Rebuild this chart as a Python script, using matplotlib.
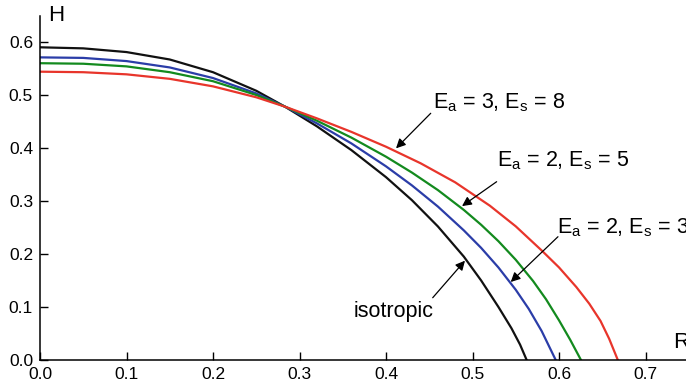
import matplotlib.pyplot as plt


plt.rcParams["font.family"] = ["Liberation Sans", "DejaVu Sans"]
plt.rcParams["mathtext.fontset"] = "custom"
plt.rcParams["mathtext.rm"] = "Liberation Sans"
plt.rcParams["mathtext.default"] = "regular"

# values (R, H)
iso_r = [0.0, 0.05, 0.10, 0.15, 0.20, 0.25, 0.2832, 0.32, 0.36, 0.40,
         0.43, 0.46, 0.49, 0.51, 0.53, 0.545, 0.555, 0.5626]
iso_h = [0.590, 0.588, 0.581, 0.567, 0.543, 0.508, 0.478, 0.441, 0.396,
         0.345, 0.3015, 0.252, 0.195, 0.150, 0.100, 0.060, 0.029, 0.0]

es3_r = [0.0, 0.05, 0.10, 0.15, 0.20, 0.25, 0.2832, 0.32, 0.36, 0.40,
         0.43, 0.46, 0.49, 0.51, 0.53, 0.55, 0.565, 0.58, 0.5962]
es3_h = [0.571, 0.570, 0.564, 0.552, 0.532, 0.503, 0.478, 0.4466, 0.4086,
         0.3654, 0.3294, 0.2895, 0.2445, 0.2115, 0.1745, 0.1325, 0.0965,
         0.0545, 0.0]

es5_r = [0.0, 0.05, 0.10, 0.15, 0.20, 0.25, 0.2832, 0.32, 0.36, 0.40,
         0.43, 0.46, 0.49, 0.51, 0.53, 0.55, 0.57, 0.585, 0.60, 0.613,
         0.6254]
es5_h = [0.560, 0.559, 0.554, 0.543, 0.526, 0.500, 0.478, 0.4516, 0.4196,
         0.3836, 0.3536, 0.3206, 0.2831, 0.2551, 0.2241, 0.1891, 0.1491,
         0.1146, 0.0749, 0.038, 0.0]

es8_r = [0.0, 0.05, 0.10, 0.15, 0.20, 0.25, 0.2832, 0.32, 0.36, 0.40,
         0.44, 0.48, 0.52, 0.55, 0.58, 0.60, 0.62, 0.635, 0.648, 0.658,
         0.668]
es8_h = [0.544, 0.543, 0.539, 0.5305, 0.5163, 0.4957, 0.478, 0.456, 0.4304,
         0.4024, 0.3712, 0.3352, 0.2912, 0.2522, 0.2066, 0.1747, 0.1377,
         0.1062, 0.0737, 0.040, 0.0]

x_ticks = [0.0, 0.1, 0.2, 0.3, 0.4, 0.5, 0.6, 0.7]
y_ticks = [0.0, 0.1, 0.2, 0.3, 0.4, 0.5, 0.6]


fig = plt.figure(figsize=(6.86, 3.89), dpi=100)
ax = fig.add_axes([40 / 686, 29 / 389, 648.75 / 686, 344.5 / 389])

ax.plot(iso_r, iso_h, color="#111111", lw=1.6)
ax.plot(es3_r, es3_h, color="#2b3da8", lw=1.6)
ax.plot(es5_r, es5_h, color="#138a1e", lw=1.6)
ax.plot(es8_r, es8_h, color="#e8352b", lw=1.6)

ax.set_xlim(0, 0.75)
ax.set_ylim(0, 0.65)
ax.set_xticks(x_ticks)
ax.set_yticks(y_ticks)
ax.set_xticklabels([f"{v:.1f}" for v in x_ticks])
ax.set_yticklabels([f"{v:.1f}" for v in y_ticks])
ax.tick_params(direction="in", length=6, width=1.0, labelsize=12.5, pad=5)

for side in ["top", "right"]:
    ax.spines[side].set_visible(False)
for side in ["left", "bottom"]:
    ax.spines[side].set_linewidth(1.1)

ax.text(0.0095, 0.65, "H", fontsize=16, ha="left", va="center", clip_on=False)
ax.text(0.7315, 0.033, "R", fontsize=16, ha="left", va="center", clip_on=False)

arrow = dict(arrowstyle="-|>", color="black", lw=0.9, mutation_scale=14,
             shrinkA=0, shrinkB=0)

ax.annotate("", xy=(0.4116, 0.3994), xytext=(0.4517, 0.4655), arrowprops=arrow)
ax.text(0.4547, 0.475, "E$_a$ = 3, E$_s$ = 8", fontsize=15.5,
        ha="left", va="baseline")

ax.annotate("", xy=(0.4879, 0.2904), xytext=(0.5279, 0.3364), arrowprops=arrow)
ax.text(0.528, 0.365, "E$_a$ = 2, E$_s$ = 5", fontsize=15.5,
        ha="left", va="baseline")

ax.annotate("", xy=(0.5442, 0.1472), xytext=(0.5988, 0.2326), arrowprops=arrow)
ax.text(0.5973, 0.239, "E$_a$ = 2, E$_s$ = 3", fontsize=15.5,
        ha="left", va="baseline", clip_on=False)

ax.annotate("", xy=(0.4913, 0.1874), xytext=(0.454, 0.1175), arrowprops=arrow)
ax.text(0.363, 0.0817, "isotropic", fontsize=15.5, ha="left", va="baseline")

fig.savefig("out.png", dpi=100)
